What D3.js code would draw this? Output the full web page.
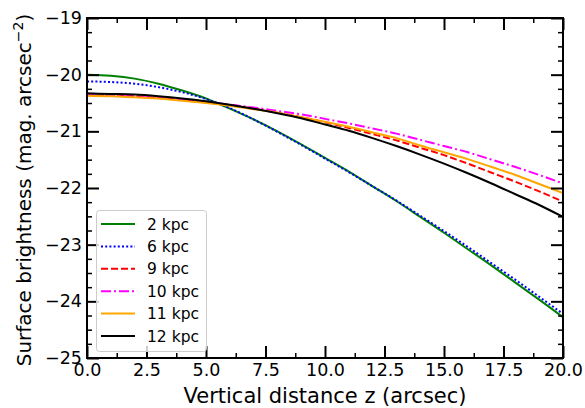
<!DOCTYPE html>
<html>
<head>
<meta charset="utf-8">
<script src="https://cdn.jsdelivr.net/npm/d3@7"></script>
<style>
  html, body { margin: 0; padding: 0; background: #fff; }
  svg { display: block; }
  text { font-family: "DejaVu Sans", sans-serif; fill: #000; }
</style>
</head>
<body>
<svg id="chart" width="585" height="408"></svg>
<script>
// ---- data ----
const zValues = [0,1,2,3,4,5,6,7,8,9,10,11,12,13,14,15,16,17,18,19,20];

const kpc2  = [-20.00,-20.02,-20.07,-20.16,-20.28,-20.42,-20.60,-20.79,-21.00,-21.23,-21.47,-21.71,-21.97,-22.23,-22.51,-22.79,-23.08,-23.37,-23.67,-23.97,-24.28];
const kpc6  = [-20.12,-20.13,-20.16,-20.22,-20.31,-20.43,-20.59,-20.79,-21.01,-21.24,-21.48,-21.72,-21.97,-22.22,-22.49,-22.76,-23.04,-23.33,-23.62,-23.92,-24.22];
const kpc9  = [-20.36,-20.37,-20.38,-20.41,-20.44,-20.49,-20.54,-20.60,-20.67,-20.75,-20.84,-20.94,-21.05,-21.16,-21.29,-21.42,-21.57,-21.73,-21.89,-22.06,-22.24];
const kpc10 = [-20.36,-20.37,-20.39,-20.41,-20.44,-20.48,-20.53,-20.58,-20.64,-20.70,-20.78,-20.86,-20.95,-21.04,-21.15,-21.26,-21.37,-21.50,-21.63,-21.77,-21.92];
const kpc11 = [-20.37,-20.38,-20.40,-20.42,-20.46,-20.50,-20.55,-20.61,-20.67,-20.75,-20.83,-20.92,-21.02,-21.12,-21.25,-21.37,-21.49,-21.63,-21.77,-21.93,-22.09];
const kpc12 = [-20.33,-20.34,-20.35,-20.38,-20.42,-20.47,-20.53,-20.60,-20.68,-20.77,-20.88,-20.99,-21.12,-21.26,-21.41,-21.57,-21.74,-21.92,-22.11,-22.30,-22.51];

const seriesNames = ["2 kpc","6 kpc","9 kpc","10 kpc","11 kpc","12 kpc"];
const seriesData  = [kpc2, kpc6, kpc9, kpc10, kpc11, kpc12];
const seriesColors = ["green","blue","red","magenta","orange","black"];
const seriesDashes = [null, "2 2.2", "7 3", "10 3 2 3", null, null];

const xTicks = [0, 2.5, 5, 7.5, 10, 12.5, 15, 17.5, 20];
const xTickLabels = ["0.0","2.5","5.0","7.5","10.0","12.5","15.0","17.5","20.0"];
const yTicks = [-19,-20,-21,-22,-23,-24,-25];
const yTickLabels = ["\u221219","\u221220","\u221221","\u221222","\u221223","\u221224","\u221225"];

// ---- layout ----
const L = 87, R = 563, T = 18, B = 358;
const svg = d3.select("#chart");

const x = d3.scaleLinear().domain([0, 20]).range([L, R]);
const y = d3.scaleLinear().domain([-25, -19]).range([B, T]);

const xMinor = d3.range(0, 20.001, 1.25).filter(v => !xTicks.includes(v));
const yMinor = d3.range(-25, -18.999, 0.25).map(v => +v.toFixed(2)).filter(v => !yTicks.includes(v));

svg.append("defs").append("clipPath").attr("id", "clip")
  .append("rect").attr("x", L).attr("y", T).attr("width", R - L).attr("height", B - T);

// lines
const line = d3.line().x((d, i) => x(zValues[i])).y(d => y(d)).curve(d3.curveMonotoneX);
const gLines = svg.append("g").attr("clip-path", "url(#clip)");
seriesData.forEach((s, k) => {
  gLines.append("path")
    .attr("d", line(s))
    .attr("fill", "none")
    .attr("stroke", seriesColors[k])
    .attr("stroke-width", 2)
    .attr("stroke-dasharray", seriesDashes[k]);
});

// axes
function styleAxis(g, w) {
  g.select(".domain").remove();
  g.selectAll(".tick line").attr("stroke", "#000").attr("stroke-width", w);
  g.selectAll("text").attr("font-family", "DejaVu Sans").attr("fill", "#000");
}
const fsTick = 17.5;

// bottom
svg.append("g").attr("transform", `translate(0,${B})`)
  .call(d3.axisBottom(x).tickValues(xTicks).tickFormat((d, i) => xTickLabels[i]).tickSize(-12).tickPadding(6))
  .call(g => { styleAxis(g, 2); g.selectAll("text").attr("font-size", fsTick); });
svg.append("g").attr("transform", `translate(0,${B})`)
  .call(d3.axisBottom(x).tickValues(xMinor).tickFormat("").tickSize(-5))
  .call(g => styleAxis(g, 1.5));
// top
svg.append("g").attr("transform", `translate(0,${T})`)
  .call(d3.axisTop(x).tickValues(xTicks).tickFormat("").tickSize(-12))
  .call(g => styleAxis(g, 2));
svg.append("g").attr("transform", `translate(0,${T})`)
  .call(d3.axisTop(x).tickValues(xMinor).tickFormat("").tickSize(-5))
  .call(g => styleAxis(g, 1.5));
// left
svg.append("g").attr("transform", `translate(${L},0)`)
  .call(d3.axisLeft(y).tickValues(yTicks).tickFormat((d, i) => yTickLabels[i]).tickSize(-12).tickPadding(5))
  .call(g => { styleAxis(g, 2); g.selectAll("text").attr("font-size", fsTick); });
svg.append("g").attr("transform", `translate(${L},0)`)
  .call(d3.axisLeft(y).tickValues(yMinor).tickFormat("").tickSize(-5))
  .call(g => styleAxis(g, 1.5));
// right
svg.append("g").attr("transform", `translate(${R},0)`)
  .call(d3.axisRight(y).tickValues(yTicks).tickFormat("").tickSize(-12))
  .call(g => styleAxis(g, 2));
svg.append("g").attr("transform", `translate(${R},0)`)
  .call(d3.axisRight(y).tickValues(yMinor).tickFormat("").tickSize(-5))
  .call(g => styleAxis(g, 1.5));

// frame
svg.append("rect").attr("x", L).attr("y", T).attr("width", R - L).attr("height", B - T)
  .attr("fill", "none").attr("stroke", "#000").attr("stroke-width", 2);

// axis labels
svg.append("text").attr("x", (L + R) / 2).attr("y", 403)
  .attr("text-anchor", "middle").attr("font-size", 21)
  .text("Vertical distance z (arcsec)");
const yl = svg.append("text").attr("transform", `translate(31,${(T + B) / 2 + 2}) rotate(-90)`)
  .attr("text-anchor", "middle").attr("font-size", 20);
yl.append("tspan").text("Surface brightness (mag. arcsec");
yl.append("tspan").attr("dy", -8).attr("font-size", 14).text("\u22122");
yl.append("tspan").attr("dy", 8).text(")");

// legend
const lg = svg.append("g");
lg.append("rect").attr("x", 96.5).attr("y", 210.5).attr("width", 110).attr("height", 141)
  .attr("rx", 3).attr("fill", "#fff").attr("fill-opacity", 0.8)
  .attr("stroke", "#cccccc").attr("stroke-width", 1);
seriesNames.forEach((name, k) => {
  const cy = 224 + k * 22.4;
  lg.append("line").attr("x1", 101).attr("x2", 135).attr("y1", cy).attr("y2", cy)
    .attr("stroke", seriesColors[k]).attr("stroke-width", 2)
    .attr("stroke-dasharray", seriesDashes[k]);
  lg.append("text").attr("x", 147).attr("y", cy).attr("dy", "0.36em")
    .attr("font-size", 15.5).text(name);
});
</script>
</body>
</html>
